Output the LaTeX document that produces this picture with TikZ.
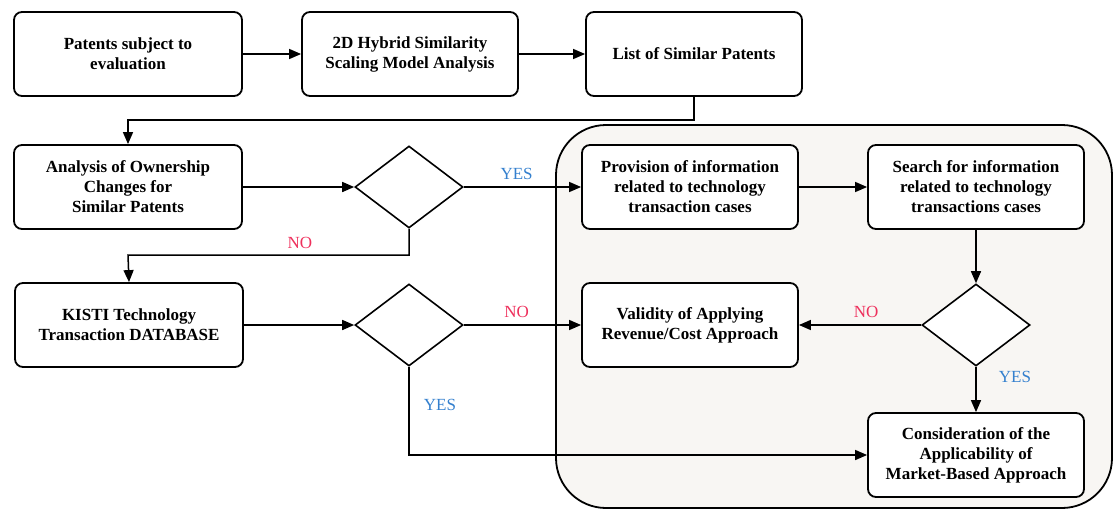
\documentclass[tikz,border=0pt]{standalone}
\usepackage{fontspec}
\setmainfont{Liberation Serif}
\usetikzlibrary{arrows.meta,shapes.geometric}

\definecolor{yescol}{RGB}{52,128,206}
\definecolor{nocol}{RGB}{238,48,92}
\definecolor{areafill}{RGB}{248,246,243}

\tikzset{
  stepbox/.style={draw, line width=0.9pt, rounded corners=4pt, fill=white,
    align=center, minimum height=42pt, minimum width=114pt,
    font=\bfseries\fontsize{8.5}{10}\selectfont},
  narrowbox/.style={stepbox, minimum width=108pt},
  decision/.style={draw, diamond, line width=0.8pt, fill=white, inner sep=0pt,
    minimum width=54pt, minimum height=41pt},
  arr/.style={line width=0.75pt, -{Triangle[length=6pt,width=5pt]}},
  yes/.style={text=yescol, font=\fontsize{8.5}{9}\selectfont},
  no/.style={text=nocol, font=\fontsize{8.5}{9}\selectfont}
}

\begin{document}
\begin{tikzpicture}[x=0.5pt,y=-0.5pt]
  \useasboundingbox (0,0) rectangle (1115,510);

  % market-based area
  \draw[line width=0.9pt, fill=areafill, rounded corners=25pt] (556,125) rectangle (1112,508);

  % first row
  \node[stepbox] (patents) at (128,54) {Patents subject to\\evaluation};
  \node[narrowbox] (hybrid) at (410,54) {2D Hybrid Similarity\\Scaling Model Analysis};
  \node[narrowbox] (similar) at (694,54) {List of Similar Patents};

  % second row
  \node[stepbox] (ownership) at (128,187) {Analysis of Ownership\\Changes for\\Similar Patents};
  \node[decision] (dec1) at (409,187) {};
  \node[narrowbox] (provision) at (690,187) {Provision of information\\related to technology\\transaction cases};
  \node[narrowbox] (search) at (976,187) {Search for information\\related to technology\\transactions cases};

  % third row
  \node[stepbox] (kisti) at (129,325) {KISTI Technology\\Transaction DATABASE};
  \node[decision] (dec2) at (409,325) {};
  \node[narrowbox] (validity) at (690,325) {Validity of Applying\\Revenue/Cost Approach};
  \node[decision] (dec3) at (976,325) {};

  % last box
  \node[narrowbox] (market) at (976,455) {Consideration of the\\Applicability of\\Market-Based Approach};

  \coordinate (bend1) at (128,120);
  \coordinate (bend2) at (128,255);

  \draw[arr] (patents) -- (hybrid);
  \draw[arr] (hybrid) -- (similar);
  \draw[arr] (similar.south) |- (bend1) -- (ownership.north);
  \draw[arr] (ownership) -- (dec1);
  \draw[arr] (dec1) -- node[yes, above, pos=0.45] {YES} (provision);
  \draw[arr] (dec1.south) |- (bend2) -- (kisti.north);
  \node[no] (no1) at (300,243) {NO};
  \draw[arr] (kisti) -- (dec2);
  \draw[arr] (dec2) -- node[no, above, pos=0.45] {NO} (validity);
  \draw[arr] (dec2.south) |- (market.west);
  \node[yes] (yes2) at (440,405) {YES};
  \draw[arr] (provision) -- (search);
  \draw[arr] (search) -- (dec3);
  \draw[arr] (dec3) -- node[no, above, pos=0.45] {NO} (validity);
  \draw[arr] (dec3) -- (market);
  \node[yes] (yes3) at (1015,377) {YES};
\end{tikzpicture}
\end{document}
